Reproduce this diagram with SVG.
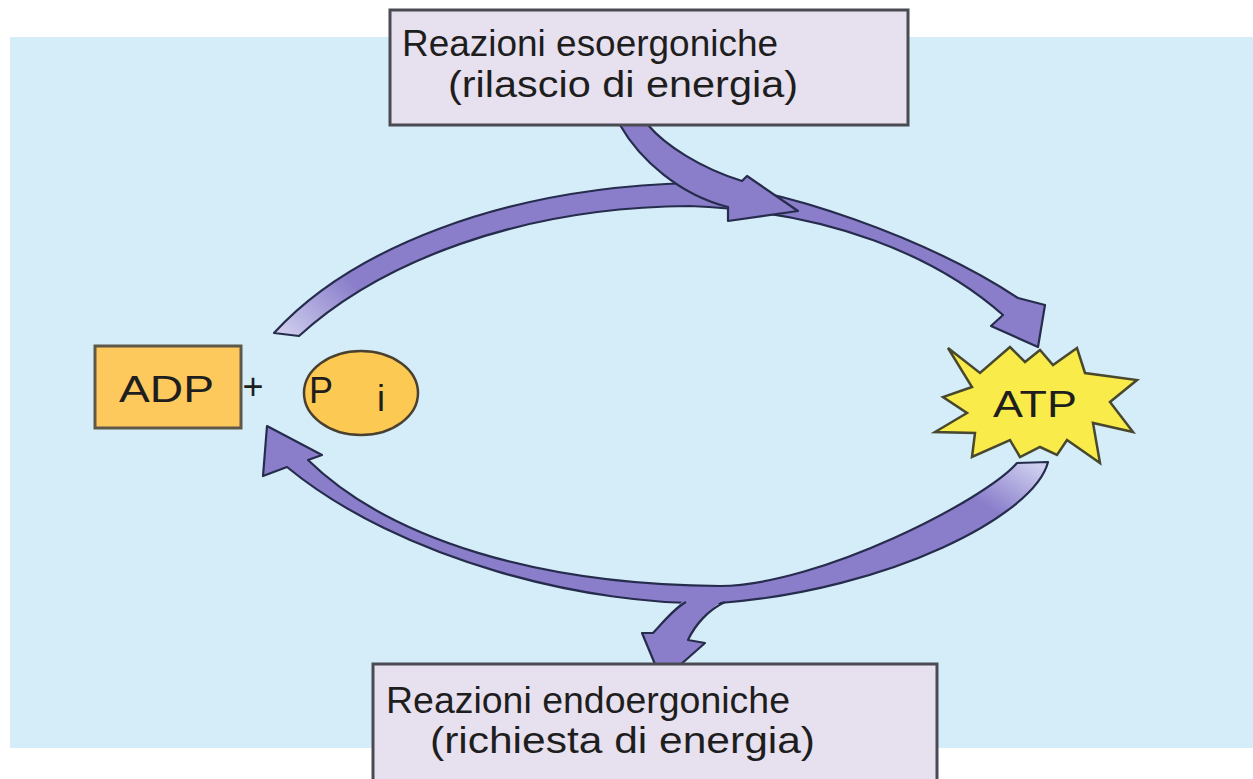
<svg xmlns="http://www.w3.org/2000/svg" width="1253" height="779" viewBox="0 0 1253 779">
<defs>
<style>
.box{fill:#e7e0ee;stroke:#4a4a52;stroke-width:3}
.lbl{font-family:"Liberation Sans",Arial,sans-serif;font-size:36px;fill:#1e1e1e}
.arrow{stroke:#262c4c;stroke-width:2.2;stroke-linejoin:round}
.afill{fill:#8a7ecb}
</style>
<linearGradient id="g1" gradientUnits="userSpaceOnUse" x1="280" y1="338" x2="345" y2="275">
<stop offset="0" stop-color="#d2d2ef"/><stop offset="1" stop-color="#8a7ecb"/>
</linearGradient>
<linearGradient id="g3" gradientUnits="userSpaceOnUse" x1="1035" y1="463" x2="1000" y2="515">
<stop offset="0" stop-color="#cfd0ef"/><stop offset="1" stop-color="#8a7ecb"/>
</linearGradient>
</defs>
<rect x="0" y="0" width="1253" height="779" fill="#ffffff"/>
<rect x="10" y="37" width="1243" height="711" fill="#d5ecf9"/>

<g id="connectors">
<path id="arc-top" class="arrow" fill="url(#g1)" d="M274,333 C350,250 500,188 690,183 C780,185 930,240 1018,298 L1045,305 L1038,347 L991,326 L1003,315 C935,255 830,212 690,206 C520,207 380,262 299,336 Z"/>
<path id="in-top" class="arrow afill" d="M620,125 C640,160 680,195 728,207 L728,221 L798,211 L747,176 L742,181 C700,168 665,145 648,125 Z"/>
<path id="arc-bottom" class="arrow" fill="url(#g3)" d="M1048,462 C1035,515 890,590 720,603 C590,607 400,560 287,467 L263,476 L267,426 L322,455 L308,460 C390,540 540,585 720,586 C820,585 985,500 1017,463 Z"/>
<path id="out-bottom-fill" class="afill" d="M725,599 C708,610 695,625 688,640 L705,643 L662,681 L642,633 L653,633 C665,620 675,608 688,596 Z"/>
<path id="out-bottom-edge" class="arrow" fill="none" d="M725,602 C708,610 695,625 688,640 L705,643 L662,681 L642,633 L653,633 C665,620 675,608 686,602"/>
</g>

<g id="node-top">
<rect class="box" x="390" y="10" width="518" height="115"/>
<text class="lbl" x="402" y="56" textLength="376" lengthAdjust="spacingAndGlyphs">Reazioni esoergoniche</text>
<text class="lbl" x="448" y="97" textLength="350" lengthAdjust="spacingAndGlyphs">(rilascio di energia)</text>
</g>

<g id="node-adp">
<rect x="95" y="346" width="146" height="82" fill="#fdc95c" stroke="#5e5848" stroke-width="3"/>
<text class="lbl" x="119" y="402" font-size="35" textLength="95" lengthAdjust="spacingAndGlyphs">ADP</text>
</g>

<g id="node-plus">
<text class="lbl" x="253" y="399" font-size="28" text-anchor="middle">+</text>
</g>

<g id="node-pi">
<ellipse cx="361" cy="393" rx="57" ry="42" fill="#fcc952" stroke="#4a4030" stroke-width="2.5"/>
<text class="lbl" x="309" y="403" font-size="36">P</text>
<text class="lbl" x="377" y="411" font-size="16">i</text>
</g>

<g id="node-atp">
<polygon points="948,348 980,373 1010,347 1025,362 1040,350 1053,365 1077,348 1085,373 1137,380 1110,402 1133,432 1093,423 1100,463 1067,440 1057,455 1040,447 1020,457 1010,440 972,457 975,433 935,432 967,413 943,397 972,387" fill="#f9ec4a" stroke="#48482e" stroke-width="2.5" stroke-linejoin="miter"/>
<text class="lbl" x="993" y="417" font-size="32" textLength="84" lengthAdjust="spacingAndGlyphs">ATP</text>
</g>

<g id="node-bottom">
<rect class="box" x="373" y="664" width="564" height="125"/>
<text class="lbl" x="386" y="713" textLength="404" lengthAdjust="spacingAndGlyphs">Reazioni endoergoniche</text>
<text class="lbl" x="430" y="753" textLength="385" lengthAdjust="spacingAndGlyphs">(richiesta di energia)</text>
</g>
</svg>
